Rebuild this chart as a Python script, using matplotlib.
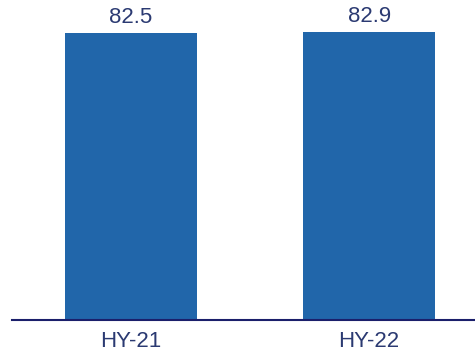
import matplotlib
matplotlib.use("Agg")
import matplotlib.pyplot as plt

periods = ["HY-21", "HY-22"]
values = [82.5, 82.9]

bar_color = "#2166aa"
text_color = "#2b3a72"
axis_color = "#1b1f6b"

plt.rcParams['font.family'] = ['Liberation Sans', 'DejaVu Sans']

fig = plt.figure(figsize=(4.75, 3.51), dpi=100)
ax = fig.add_axes([12 / 475, 31 / 351, 463 / 475, 320 / 351])

x = list(range(len(periods)))
bars = ax.bar(x, values, width=0.555, color=bar_color)

# value labels above each bar
for b, v in zip(bars, values):
    ax.annotate(f"{v:.1f}", (b.get_x() + b.get_width() / 2, v),
                xytext=(0, 7.3), textcoords="offset points",
                ha="center", va="baseline", fontsize=16, color=text_color)

ax.set_xlim(-0.5, 1.445)
ax.set_ylim(0, 92.1)
ax.set_xticks(x)
ax.set_xticklabels(periods, fontsize=16, color=text_color)
ax.tick_params(axis="x", length=0, pad=8)
ax.set_yticks([])

for side in ["top", "right", "left"]:
    ax.spines[side].set_visible(False)
ax.spines["bottom"].set_color(axis_color)
ax.spines["bottom"].set_linewidth(1.5)

fig.savefig("out.png", dpi=100)
